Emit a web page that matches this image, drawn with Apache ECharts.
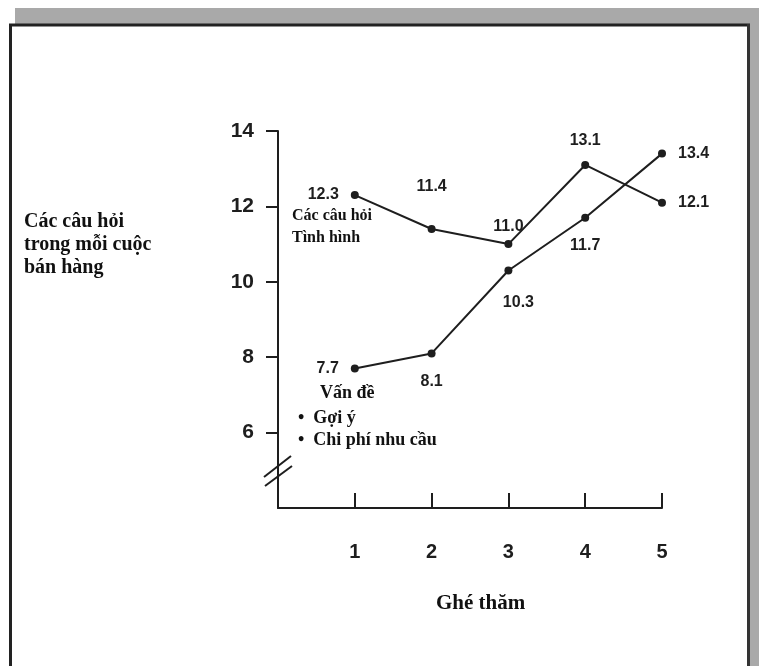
<!DOCTYPE html>
<html><head><meta charset="utf-8">
<script src="https://cdn.jsdelivr.net/npm/echarts@6/dist/echarts.min.js"></script>
<style>html,body{margin:0;padding:0;background:#fff}#c{width:759px;height:666px}</style>
</head><body><div id="c"></div>
<script>
// ---- data ----
const visits = [1, 2, 3, 4, 5];
const xTickLabels = ['1', '2', '3', '4', '5'];
const situationQuestions = [12.3, 11.4, 11.0, 13.1, 12.1];
const problemQuestions = [7.7, 8.1, 10.3, 11.7, 13.4];
const yTickValues = [6, 8, 10, 12, 14];
const yTickLabels = ['6', '8', '10', '12', '14'];
const yAxisTitle = 'Các câu hỏi\ntrong mỗi cuộc\nbán hàng';
const xAxisTitle = 'Ghé thăm';
const situationNote = 'Các câu hỏi\nTình hình';
const problemNoteHead = 'Vấn đề';
const problemNoteItems = '•  Gợi ý\n•  Chi phí nhu cầu';

// ---- label placement (style, not data) ----
const sitLabelPos = ['left', 'top', 'top', 'top', 'right'];
const sitLabelOff = [[-4, 0], [0, -22], [0, 2], [0, -4], [4, 0]];
const probLabelPos = ['left', 'bottom', 'bottom', 'bottom', 'right'];
const probLabelOff = [[-4, 0], [0, 8], [10, 12], [0, 8], [4, 0]];

const ink = '#1e1e1e';
const sans = '"Liberation Sans", Arial, sans-serif';
const serif = '"Liberation Serif", "Times New Roman", serif';

function build(vals, pos, off) {
  return visits.map((x, i) => ({
    value: [x, vals[i]],
    label: { position: pos[i], offset: off[i] }
  }));
}

const chart = echarts.init(document.getElementById('c'), null, { renderer: 'canvas' });
const labelStyle = {
  show: true, color: ink, fontFamily: sans, fontWeight: 'bold', fontSize: 16,
  distance: 8, formatter: p => p.value[1].toFixed(1)
};
chart.setOption({
  animation: false,
  backgroundColor: '#fff',
  grid: { left: 278, right: 97, top: 131, bottom: 158 },
  xAxis: {
    type: 'value', min: 0, max: 5, interval: 1,
    splitLine: { show: false },
    axisLine: { show: true, lineStyle: { color: ink, width: 2 } },
    axisTick: { show: true, inside: true, length: 15, customValues: visits, lineStyle: { color: ink, width: 2 } },
    axisLabel: {
      customValues: visits, margin: 34, color: ink, fontFamily: sans, fontWeight: 'bold', fontSize: 20,
      formatter: v => xTickLabels[visits.indexOf(v)] || ''
    }
  },
  yAxis: {
    type: 'value', min: 4, max: 14, interval: 2,
    splitLine: { show: false },
    axisLine: { show: true, lineStyle: { color: ink, width: 2 } },
    axisTick: { show: true, inside: false, length: 12, customValues: yTickValues, lineStyle: { color: ink, width: 2 } },
    axisLabel: {
      customValues: yTickValues, margin: 24, color: ink, fontFamily: sans, fontWeight: 'bold', fontSize: 21,
      formatter: v => yTickLabels[yTickValues.indexOf(v)] || ''
    }
  },
  series: [
    {
      name: 'Các câu hỏi Tình hình', type: 'line', data: build(situationQuestions, sitLabelPos, sitLabelOff),
      symbol: 'circle', symbolSize: 8, itemStyle: { color: ink },
      lineStyle: { color: ink, width: 2 }, label: labelStyle
    },
    {
      name: 'Vấn đề', type: 'line', data: build(problemQuestions, probLabelPos, probLabelOff),
      symbol: 'circle', symbolSize: 8, itemStyle: { color: ink },
      lineStyle: { color: ink, width: 2 }, label: labelStyle
    }
  ],
  graphic: [
    // frame
    { type: 'rect', silent: true, shape: { x: 15, y: 8, width: 744, height: 16 }, style: { fill: '#a9a9a9' } },
    { type: 'rect', silent: true, shape: { x: 750, y: 24, width: 9, height: 642 }, style: { fill: '#a9a9a9' } },
    { type: 'line', silent: true, shape: { x1: 9, y1: 25, x2: 750, y2: 25 }, style: { stroke: '#222', lineWidth: 3 } },
    { type: 'line', silent: true, shape: { x1: 10.5, y1: 24, x2: 10.5, y2: 666 }, style: { stroke: '#222', lineWidth: 3 } },
    { type: 'line', silent: true, shape: { x1: 748.5, y1: 24, x2: 748.5, y2: 666 }, style: { stroke: '#333', lineWidth: 3 } },
    // axis break marks
    { type: 'line', silent: true, shape: { x1: 264, y1: 477, x2: 291, y2: 456 }, style: { stroke: ink, lineWidth: 2 } },
    { type: 'line', silent: true, shape: { x1: 265, y1: 486, x2: 292, y2: 466 }, style: { stroke: ink, lineWidth: 2 } },
    // texts
    { type: 'text', silent: true, left: 24, top: 210, style: { text: yAxisTitle, fill: '#111', font: 'bold 20px ' + serif, lineHeight: 23, letterSpacing: 1.5 } },
    { type: 'text', silent: true, left: 436, top: 593, style: { text: xAxisTitle, fill: '#111', font: 'bold 21px ' + serif, letterSpacing: 1.5 } },
    { type: 'text', silent: true, left: 292, top: 205, style: { text: situationNote, fill: '#111', font: 'bold 16px ' + serif, lineHeight: 22, letterSpacing: 0.5 } },
    { type: 'text', silent: true, left: 320, top: 384, style: { text: problemNoteHead, fill: '#111', font: 'bold 18px ' + serif, letterSpacing: 1 } },
    { type: 'text', silent: true, left: 298, top: 407, style: { text: problemNoteItems, fill: '#111', font: 'bold 18px ' + serif, lineHeight: 22, letterSpacing: 1 } }
  ]
});
</script>
</body></html>
